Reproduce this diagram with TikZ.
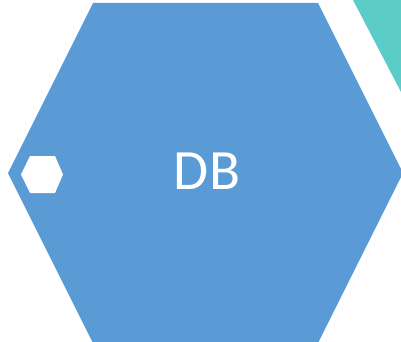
\documentclass[tikz,border=0pt]{standalone}
\usepackage{fontspec}
\setmainfont{Carlito}
\definecolor{hexblue}{RGB}{91,155,213}
\definecolor{hexteal}{RGB}{92,204,200}

\begin{document}
\begin{tikzpicture}
[x=1pt,y=-1pt,
 bighex/.style={fill=hexblue},
 smallhex/.style={fill=white},
 corner/.style={fill=hexteal},
 dbtext/.style={text=white,font=\fontsize{57}{68}\selectfont,inner sep=0pt}]
\useasboundingbox (0,0) rectangle (401,342);
% big hexagon
\fill[bighex] (8,173) -- (93,3) -- (318,3) -- (403,173) -- (318,343) -- (93,343) -- cycle;
% teal piece top right
\fill[corner] (353,0) -- (401,0) -- (401,92) -- cycle;
% small white hexagon
\fill[smallhex] (21,174.5) -- (30,156) -- (55,156) -- (63,174.5) -- (55,193) -- (30,193) -- cycle;
\node[dbtext] (db) at (207,171.5) {DB};
\end{tikzpicture}
\end{document}
